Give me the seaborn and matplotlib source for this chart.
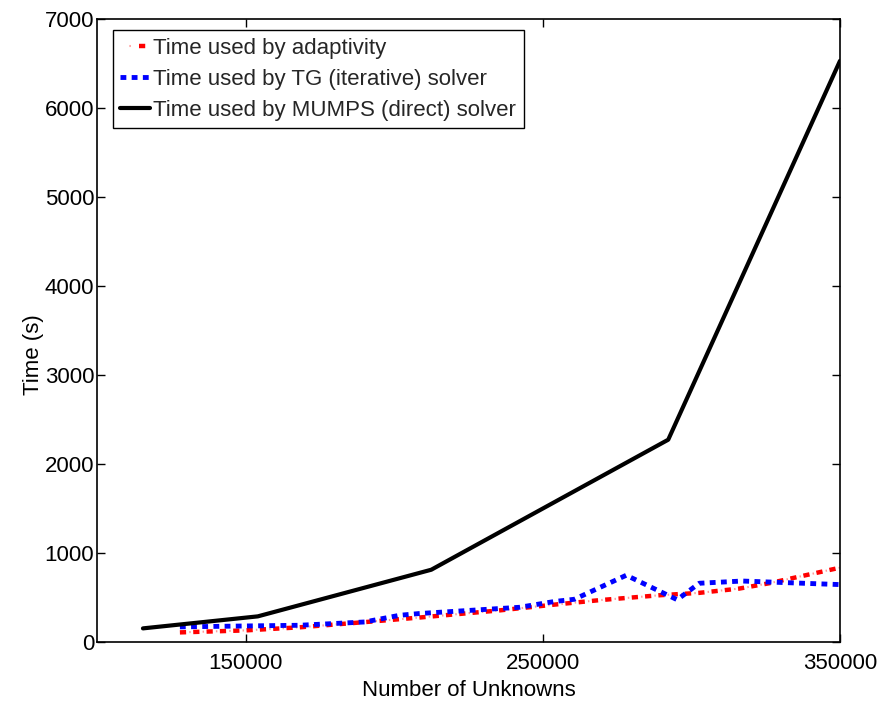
import matplotlib
matplotlib.use("Agg")
import matplotlib.pyplot as plt
from matplotlib.legend_handler import HandlerTuple
import seaborn as sns
import pandas as pd

# Adaptivity timing (number of unknowns vs seconds)
adapt_n = [127890, 149730, 168210, 191730, 208535, 235420, 253900, 269020,
           289180, 302620, 316060, 326140, 350000]
adapt_t = [108, 130, 165, 228, 275, 355, 420, 470, 525, 552, 600, 660, 835]

# TG iterative solver timing
tg_n = [127890, 149730, 168210, 190050, 201810, 208535, 242140, 253900,
        260620, 278090, 295230, 302620, 317070, 350000]
tg_t = [170, 180, 188, 225, 300, 320, 390, 455, 480, 750, 475, 660, 685, 645]

# MUMPS direct solver timing
mumps_n = [115460, 154100, 212470, 292200, 350000]
mumps_t = [153, 288, 812, 2273, 6530]

labels = ["Time used by adaptivity",
          "Time used by TG (iterative) solver",
          "Time used by MUMPS (direct) solver"]

sns.set_theme(style="white")
plt.rcParams["font.family"] = ["Liberation Sans", "DejaVu Sans"]

fig = plt.figure(figsize=(8.96, 7.01), dpi=100)
ax = fig.add_axes([97 / 896, 1 - 642 / 701, 743 / 896, 623 / 701])

df_a = pd.DataFrame({"n": adapt_n, "t": adapt_t})
df_tg = pd.DataFrame({"n": tg_n, "t": tg_t})
df_m = pd.DataFrame({"n": mumps_n, "t": mumps_t})

# dash-dot line: pale thin dots between short heavy red dashes
sns.lineplot(data=df_a, x="n", y="t", ax=ax, color="#ff9a9a", linewidth=1.5,
             linestyle=(1.9, (0.7, 5.7)), sort=False)
pink = ax.lines[-1]
sns.lineplot(data=df_a, x="n", y="t", ax=ax, color="#ff0000", linewidth=3.2,
             linestyle=(0, (1.4, 1.6)), sort=False)
red = ax.lines[-1]
sns.lineplot(data=df_tg, x="n", y="t", ax=ax, color="#0000ff", linewidth=3.5,
             linestyle=(0, (1.2, 1.1)), sort=False)
blue = ax.lines[-1]
sns.lineplot(data=df_m, x="n", y="t", ax=ax, color="black", linewidth=3,
             sort=False)
black = ax.lines[-1]

ax.set_xlim(100000, 350000)
ax.set_ylim(0, 7000)
ax.set_xticks([150000, 250000, 350000])
ax.set_xticklabels(["150000", "250000", "350000"])
ax.set_yticks(range(0, 7001, 1000))
ax.tick_params(direction="in", length=6, width=1, colors="black",
               labelsize=16, top=True, right=True, bottom=True, left=True)
ax.tick_params(axis="x", pad=8)
ax.tick_params(axis="y", pad=2)
for s in ax.spines.values():
    s.set_visible(True)
    s.set_color("black")
    s.set_linewidth(1.2)

ax.set_xlabel("Number of Unknowns", fontsize=16, color="black", labelpad=4)
ax.set_ylabel("Time (s)", fontsize=16, color="black")
ax.yaxis.set_label_coords(-0.071, 0.462)

leg = ax.legend([(pink, red), blue, black], labels,
                handler_map={tuple: HandlerTuple(ndivide=None)},
                loc="upper left", bbox_to_anchor=(0.021, 0.982),
                borderaxespad=0, fontsize=16, handlelength=1.35,
                handletextpad=0.15, labelspacing=0.45, borderpad=0.34,
                frameon=True, fancybox=False, edgecolor="black",
                framealpha=1)
leg.get_frame().set_linewidth(1.0)

fig.savefig("out.png", dpi=100)
